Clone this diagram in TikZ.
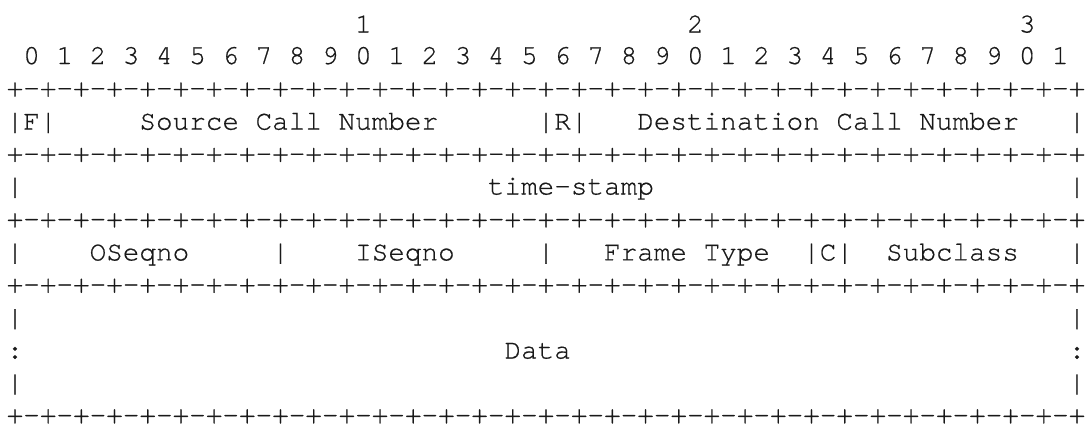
\documentclass[tikz,border=0pt]{standalone}
\usepackage{fontspec}
\setmonofont[FakeBold=0.6]{TeX Gyre Cursor}
\newlength\cwd
\setlength\cwd{16.594pt}
\newcommand\gap[1]{\hspace*{#1\cwd}}
\newcommand\mono[1]{\monoi#1\relax}
\newcommand\monoi[1]{\ifx#1\relax\else\makebox[\cwd]{#1}\expandafter\monoi\fi}
\newcommand\bdline{\mono{+-+-+-+-+-+-+-+-+-+-+-+-+-+-+-+-+-+-+-+-+-+-+-+-+-+-+-+-+-+-+-+-+}}
\begin{document}
\begin{tikzpicture}[x=1pt,y=-1pt,
  row/.style={anchor=base west, inner sep=0pt, outer sep=0pt, text=black!90,
    font=\ttfamily\fontsize{27.66}{32.7}\selectfont}]
\useasboundingbox (0,0) rectangle (1089,423);
\def\xl{6.7}
\node[row] (r0)  at (\xl,32.5)  {\gap{21}\mono{1}\gap{19}\mono{2}\gap{19}\mono{3}};
\node[row] (r1)  at (\xl,64.0)  {\mono{~0~1~2~3~4~5~6~7~8~9~0~1~2~3~4~5~6~7~8~9~0~1~2~3~4~5~6~7~8~9~0~1}};
\node[row] (r2)  at (\xl,96.5)  {\bdline};
\node[row] (r3)  at (\xl,129.6) {\mono{|F|}\gap{5}\mono{Source~Call~Number}\gap{6}\mono{|R|}\gap{3}\mono{Destination~Call~Number}\gap{3}\mono{|}};
\node[row] (r4)  at (\xl,161.9) {\bdline};
\node[row] (r5)  at (\xl,194.5) {\mono{|}\gap{28}\mono{time-stamp}\gap{25}\mono{|}};
\node[row] (r6)  at (\xl,227.3) {\bdline};
\node[row] (r7)  at (\xl,260.4) {\mono{|}\gap{4}\mono{OSeqno}\gap{5}\mono{|}\gap{4}\mono{ISeqno}\gap{5}\mono{|}\gap{3}\mono{Frame~Type}\gap{2}\mono{|C|}\gap{2}\mono{Subclass}\gap{3}\mono{|}};
\node[row] (r8)  at (\xl,292.7) {\bdline};
\node[row] (r9)  at (\xl,325.8) {\mono{|}\gap{63}\mono{|}};
\node[row] (r10) at (\xl,358.5) {\mono{:}\gap{29}\mono{Data}\gap{30}\mono{:}};
\node[row] (r11) at (\xl,391.2) {\mono{|}\gap{63}\mono{|}};
\node[row] (r12) at (\xl,423.3) {\bdline};
\end{tikzpicture}
\end{document}
